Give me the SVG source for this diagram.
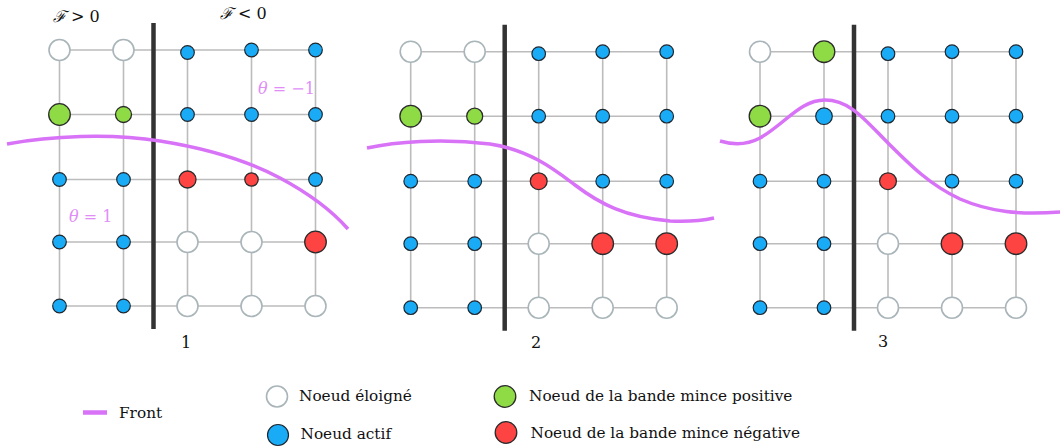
<svg xmlns="http://www.w3.org/2000/svg" xmlns:xlink="http://www.w3.org/1999/xlink" width="1060" height="448" viewBox="0 0 1060 448">
<style>
.far{fill:#ffffff;stroke:#a9b5b9;stroke-width:1.6}
.act{fill:#1aabf7;stroke:#1d2730;stroke-width:1.2}
.pos{fill:#8edb45;stroke:#2b2b2b;stroke-width:1.3}
.neg{fill:#fe4343;stroke:#2b2b2b;stroke-width:1.3}
.grid{fill:none;stroke:#bcbcbc;stroke-width:1.6}
.bar{stroke:#333333;stroke-width:4.5}
.front{fill:none;stroke:#d872f7;stroke-width:3.5;stroke-linecap:butt}
text{font-family:'DejaVu Serif','Liberation Serif',serif}
.lbl{fill:#111111}
.leg{fill:#111111;font-size:15.3px}
.theta{fill:#e08df7}
</style>
<defs>
<path id="gridpath" class="grid" d="M59.5 50H315.5M59.5 114.5H315.5M59.5 179.5H315.5M59.5 242H315.5M59.5 306H315.5M59.5 50V306M123.5 50V306M187.5 50V306M251.5 50V306M315.5 50V306"/>
</defs>
<rect width="1060" height="448" fill="#ffffff"/>

<g id="connectors">
<use xlink:href="#gridpath"/>
<use xlink:href="#gridpath" transform="translate(351.2,1.7)"/>
<use xlink:href="#gridpath" transform="translate(700.5,1.7)"/>
</g>

<g id="bars">
<line class="bar" x1="153.5" y1="23" x2="153.5" y2="329"/>
<line class="bar" x1="504.7" y1="24.7" x2="504.7" y2="330.7"/>
<line class="bar" x1="854" y1="24.7" x2="854" y2="330.7"/>
</g>

<g id="panel1">
<g id="p1-n11"><circle class="far" cx="59.5" cy="50" r="10.5"/></g>
<g id="p1-n12"><circle class="far" cx="123.5" cy="50" r="10.5"/></g>
<g id="p1-n13"><circle class="act" cx="187.5" cy="52.5" r="6.8"/></g>
<g id="p1-n14"><circle class="act" cx="251.5" cy="50" r="6.8"/></g>
<g id="p1-n15"><circle class="act" cx="315.5" cy="50" r="6.8"/></g>
<g id="p1-n21"><circle class="pos" cx="59.5" cy="114.5" r="10.8"/></g>
<g id="p1-n22"><circle class="pos" cx="123.5" cy="114.5" r="8"/></g>
<g id="p1-n23"><circle class="act" cx="187.5" cy="114.5" r="6.8"/></g>
<g id="p1-n24"><circle class="act" cx="251.5" cy="114.5" r="6.8"/></g>
<g id="p1-n25"><circle class="act" cx="315.5" cy="114.5" r="6.8"/></g>
<g id="p1-n31"><circle class="act" cx="59.5" cy="179.5" r="6.8"/></g>
<g id="p1-n32"><circle class="act" cx="123.5" cy="179.5" r="6.8"/></g>
<g id="p1-n33"><circle class="neg" cx="187.5" cy="179.5" r="8.5"/></g>
<g id="p1-n34"><circle class="neg" cx="251.5" cy="179.5" r="6.7"/></g>
<g id="p1-n35"><circle class="act" cx="315.5" cy="179.5" r="6.8"/></g>
<g id="p1-n41"><circle class="act" cx="59.5" cy="242" r="6.8"/></g>
<g id="p1-n42"><circle class="act" cx="123.5" cy="242" r="6.8"/></g>
<g id="p1-n43"><circle class="far" cx="187.5" cy="242" r="10.5"/></g>
<g id="p1-n44"><circle class="far" cx="251.5" cy="242" r="10.5"/></g>
<g id="p1-n45"><circle class="neg" cx="315.5" cy="242" r="10.8"/></g>
<g id="p1-n51"><circle class="act" cx="59.5" cy="306" r="6.8"/></g>
<g id="p1-n52"><circle class="act" cx="123.5" cy="306" r="6.8"/></g>
<g id="p1-n53"><circle class="far" cx="187.5" cy="306" r="10.5"/></g>
<g id="p1-n54"><circle class="far" cx="251.5" cy="306" r="10.5"/></g>
<g id="p1-n55"><circle class="far" cx="315.5" cy="306" r="10.5"/></g>
</g>

<g id="panel2" transform="translate(351.2,1.7)">
<g id="p2-n11"><circle class="far" cx="59.5" cy="50" r="10.5"/></g>
<g id="p2-n12"><circle class="far" cx="123.5" cy="50" r="10.5"/></g>
<g id="p2-n13"><circle class="act" cx="187.5" cy="52" r="6.8"/></g>
<g id="p2-n14"><circle class="act" cx="251.5" cy="50" r="6.8"/></g>
<g id="p2-n15"><circle class="act" cx="315.5" cy="50" r="6.8"/></g>
<g id="p2-n21"><circle class="pos" cx="59.5" cy="114.5" r="10.8"/></g>
<g id="p2-n22"><circle class="pos" cx="123.5" cy="114.5" r="8"/></g>
<g id="p2-n23"><circle class="act" cx="187.5" cy="114.5" r="6.8"/></g>
<g id="p2-n24"><circle class="act" cx="251.5" cy="114.5" r="6.8"/></g>
<g id="p2-n25"><circle class="act" cx="315.5" cy="114.5" r="6.8"/></g>
<g id="p2-n31"><circle class="act" cx="59.5" cy="179.5" r="6.8"/></g>
<g id="p2-n32"><circle class="act" cx="123.5" cy="179.5" r="6.8"/></g>
<g id="p2-n33"><circle class="neg" cx="187.5" cy="179.5" r="8.4"/></g>
<g id="p2-n34"><circle class="act" cx="251.5" cy="179.5" r="6.8"/></g>
<g id="p2-n35"><circle class="act" cx="315.5" cy="179.5" r="6.8"/></g>
<g id="p2-n41"><circle class="act" cx="59.5" cy="242" r="6.8"/></g>
<g id="p2-n42"><circle class="act" cx="123.5" cy="242" r="6.8"/></g>
<g id="p2-n43"><circle class="far" cx="187.5" cy="242" r="10.5"/></g>
<g id="p2-n44"><circle class="neg" cx="251.5" cy="242" r="10.8"/></g>
<g id="p2-n45"><circle class="neg" cx="315.5" cy="242" r="10.8"/></g>
<g id="p2-n51"><circle class="act" cx="59.5" cy="306" r="6.8"/></g>
<g id="p2-n52"><circle class="act" cx="123.5" cy="306" r="6.8"/></g>
<g id="p2-n53"><circle class="far" cx="187.5" cy="306" r="10.5"/></g>
<g id="p2-n54"><circle class="far" cx="251.5" cy="306" r="10.5"/></g>
<g id="p2-n55"><circle class="far" cx="315.5" cy="306" r="10.5"/></g>
</g>

<g id="panel3" transform="translate(700.5,1.7)">
<g id="p3-n11"><circle class="far" cx="59.5" cy="50" r="10.5"/></g>
<g id="p3-n12"><circle class="pos" cx="123.5" cy="50" r="10.8"/></g>
<g id="p3-n13"><circle class="act" cx="187.5" cy="52" r="6.8"/></g>
<g id="p3-n14"><circle class="act" cx="251.5" cy="50" r="6.8"/></g>
<g id="p3-n15"><circle class="act" cx="315.5" cy="50" r="6.8"/></g>
<g id="p3-n21"><circle class="pos" cx="59.5" cy="114.5" r="10.8"/></g>
<g id="p3-n22"><circle class="act" cx="123.5" cy="114.5" r="8.3"/></g>
<g id="p3-n23"><circle class="act" cx="187.5" cy="114.5" r="6.8"/></g>
<g id="p3-n24"><circle class="act" cx="251.5" cy="114.5" r="6.8"/></g>
<g id="p3-n25"><circle class="act" cx="315.5" cy="114.5" r="6.8"/></g>
<g id="p3-n31"><circle class="act" cx="59.5" cy="179.5" r="6.8"/></g>
<g id="p3-n32"><circle class="act" cx="123.5" cy="179.5" r="6.8"/></g>
<g id="p3-n33"><circle class="neg" cx="187.5" cy="179.5" r="8.4"/></g>
<g id="p3-n34"><circle class="act" cx="251.5" cy="179.5" r="6.8"/></g>
<g id="p3-n35"><circle class="act" cx="315.5" cy="179.5" r="6.8"/></g>
<g id="p3-n41"><circle class="act" cx="59.5" cy="242" r="6.8"/></g>
<g id="p3-n42"><circle class="act" cx="123.5" cy="242" r="6.8"/></g>
<g id="p3-n43"><circle class="far" cx="187.5" cy="242" r="10.5"/></g>
<g id="p3-n44"><circle class="neg" cx="251.5" cy="242" r="10.8"/></g>
<g id="p3-n45"><circle class="neg" cx="315.5" cy="242" r="10.8"/></g>
<g id="p3-n51"><circle class="act" cx="59.5" cy="306" r="6.8"/></g>
<g id="p3-n52"><circle class="act" cx="123.5" cy="306" r="6.8"/></g>
<g id="p3-n53"><circle class="far" cx="187.5" cy="306" r="10.5"/></g>
<g id="p3-n54"><circle class="far" cx="251.5" cy="306" r="10.5"/></g>
<g id="p3-n55"><circle class="far" cx="315.5" cy="306" r="10.5"/></g>
</g>

<g id="fronts">
<path class="front" d="M7,144 C50,136 110,133 160,141 C210,149 250,162 280,178 C310,194 333,212 348,229"/>
<path class="front" d="M367,148 C395,142 440,138 490,144 C530,150 555,170 575,185 C600,204 625,217 670,221 C690,222 705,220 714,218"/>
<path class="front" d="M720,141 C730,144 745,146 760,138 C785,124 800,100 825,100 C850,100 865,120 888,143 C910,165 930,185 960,199 C990,212 1020,215 1060,212"/>
</g>

<g id="labels">
<text class="lbl" x="53" y="22" font-size="16"><tspan font-style="italic">ℱ</tspan> &gt; 0</text>
<text class="lbl" x="220" y="19" font-size="16"><tspan font-style="italic">ℱ</tspan> &lt; 0</text>
<text class="theta" x="258" y="94" font-size="16"><tspan font-style="italic">θ</tspan> = −1</text>
<text class="theta" x="69" y="222" font-size="16"><tspan font-style="italic">θ</tspan> = 1</text>
<text class="lbl" x="186" y="348" font-size="16" text-anchor="middle">1</text>
<text class="lbl" x="536" y="348" font-size="16" text-anchor="middle">2</text>
<text class="lbl" x="883" y="347" font-size="16" text-anchor="middle">3</text>
</g>

<g id="legend">
<g id="leg-front">
<line x1="83" y1="412.5" x2="107" y2="412.5" stroke="#d872f7" stroke-width="4.5"/>
<text class="leg" x="119" y="418">Front</text>
</g>
<g id="leg-far">
<circle class="far" cx="277" cy="396.5" r="10.5"/>
<text class="leg" x="299" y="401">Noeud éloigné</text>
</g>
<g id="leg-act">
<circle class="act" cx="278" cy="435" r="10.5"/>
<text class="leg" x="300.5" y="438.5">Noeud actif</text>
</g>
<g id="leg-pos">
<circle class="pos" cx="505" cy="396.5" r="10.8"/>
<text class="leg" x="529" y="401">Noeud de la bande mince positive</text>
</g>
<g id="leg-neg">
<circle class="neg" cx="506" cy="432.5" r="10.8"/>
<text class="leg" x="530.5" y="438">Noeud de la bande mince négative</text>
</g>
</g>
</svg>
